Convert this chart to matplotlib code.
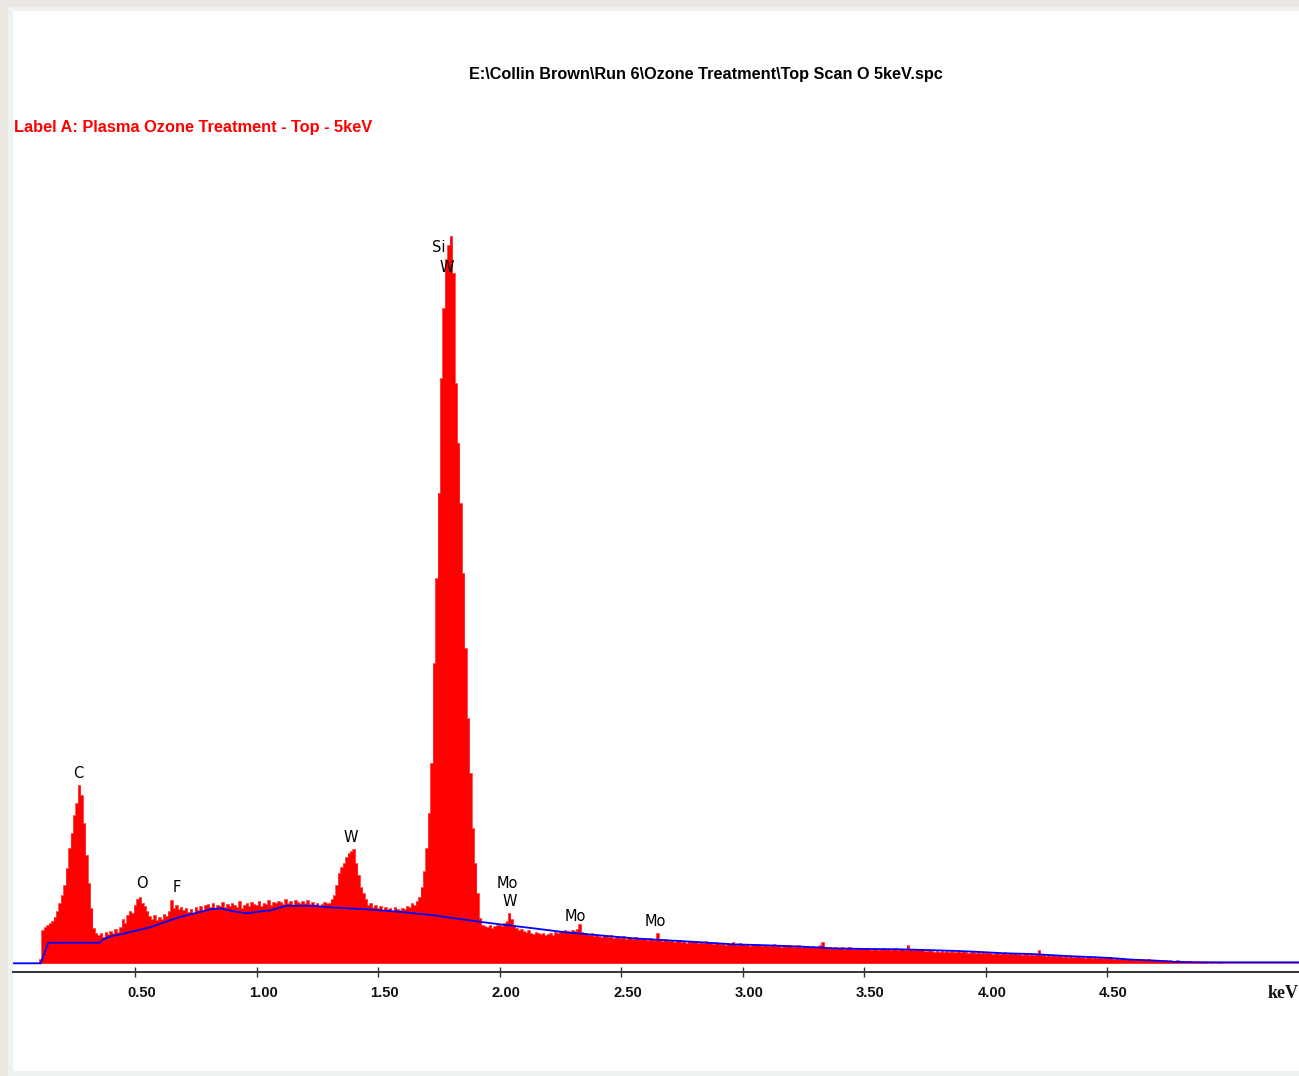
import numpy as np
import matplotlib
matplotlib.use("Agg")
import matplotlib.pyplot as plt
from matplotlib.patches import Rectangle
from matplotlib.transforms import blended_transform_factory, ScaledTranslation

# ---------------- data ----------------
channel_kev = 0.01  # channel width (keV)
# counts per channel, rows of 0.1 keV (10 channels each), starting at 0.00 keV
counts_rows = [
    [0, 0, 0, 0, 0, 0, 0, 0, 0, 0],                      # 0.0
    [0, 4, 33, 36, 38, 40, 42, 46, 52, 60],              # 0.1
    [68, 78, 95, 115, 130, 148, 160, 178, 168, 140],     # 0.2
    [108, 80, 55, 35, 30, 28, 30, 26, 31, 29],           # 0.3
    [32, 30, 34, 31, 36, 44, 40, 48, 52, 50],            # 0.4
    [58, 64, 66, 60, 57, 52, 47, 44, 48, 43],            # 0.5
    [46, 44, 49, 47, 52, 63, 55, 58, 54, 56],            # 0.6
    [53, 55, 51, 54, 50, 56, 53, 57, 52, 58],            # 0.7
    [59, 56, 60, 55, 58, 57, 61, 56, 59, 57],            # 0.8
    [60, 58, 56, 62, 55, 58, 60, 57, 61, 59],            # 0.9
    [58, 62, 57, 60, 59, 63, 58, 61, 60, 62],            # 1.0
    [61, 59, 64, 60, 62, 58, 63, 61, 60, 62],            # 1.1
    [60, 63, 59, 61, 58, 60, 57, 59, 61, 60],            # 1.2
    [60, 64, 68, 78, 90, 96, 100, 106, 110, 112],        # 1.3
    [114, 100, 88, 76, 70, 64, 58, 60, 56, 58],          # 1.4
    [55, 57, 53, 56, 54, 55, 52, 56, 54, 53],            # 1.5
    [55, 54, 57, 56, 60, 58, 62, 66, 76, 92],            # 1.6
    [115, 150, 200, 300, 385, 470, 585, 655, 704, 718],  # 1.7
    [727, 690, 580, 520, 460, 390, 315, 245, 190, 135],  # 1.8
    [100, 70, 45, 38, 37, 36, 38, 35, 37, 38],           # 1.9
    [38, 37, 40, 42, 50, 44, 38, 35, 33, 34],            # 2.0
    [32, 31, 33, 30, 29, 31, 30, 29, 30, 28],            # 2.1
    [29, 30, 28, 31, 30, 32, 31, 33, 32, 31],            # 2.2
    [33, 32, 34, 39, 31, 30, 29, 28, 30, 27],            # 2.3
    [28, 27, 26, 28, 27, 26, 28, 25, 27, 26],            # 2.4
    [25, 27, 24, 26, 25, 24, 26, 25, 24, 25],            # 2.5
    [24, 23, 25, 24, 23, 30, 23, 22, 24, 23],            # 2.6
    [22, 23, 21, 22, 23, 21, 22, 20, 22, 21],            # 2.7
    [21, 22, 20, 21, 20, 22, 21, 20, 19, 21],            # 2.8
    [20, 19, 20, 18, 20, 19, 21, 19, 18, 20],            # 2.9
    [19, 18, 19, 17, 19, 18, 19, 18, 17, 18],            # 3.0
    [18, 17, 18, 19, 17, 18, 16, 18, 17, 18],            # 3.1
    [17, 16, 17, 18, 16, 17, 16, 17, 16, 17],            # 3.2
    [16, 17, 18, 21, 16, 15, 16, 15, 16, 15],            # 3.3
    [15, 16, 14, 15, 16, 15, 14, 15, 14, 15],            # 3.4
    [14, 15, 14, 13, 15, 14, 13, 14, 15, 14],            # 3.5
    [14, 13, 14, 15, 13, 14, 14, 13, 18, 14],            # 3.6
    [13, 14, 13, 14, 13, 12, 12, 13, 12, 11],            # 3.7
    [12, 11, 12, 11, 12, 11, 12, 11, 11, 12],            # 3.8
    [11, 12, 11, 10, 11, 11, 10, 11, 10, 11],            # 3.9
    [10, 11, 10, 9, 10, 10, 9, 10, 11, 9],               # 4.0
    [10, 9, 10, 9, 9, 8, 9, 10, 8, 9],                   # 4.1
    [8, 9, 13, 8, 8, 7, 8, 7, 8, 7],                     # 4.2
    [7, 7, 6, 7, 6, 7, 6, 6, 7, 6],                      # 4.3
    [6, 5, 6, 6, 5, 6, 5, 6, 5, 5],                      # 4.4
    [5, 6, 5, 4, 5, 4, 5, 4, 4, 4],                      # 4.5
    [4, 3, 4, 3, 4, 3, 3, 4, 3, 3],                      # 4.6
    [3, 3, 2, 3, 3, 2, 3, 2, 2, 3],                      # 4.7
    [2, 2, 2, 1, 2, 1, 1, 1, 1, 1],                      # 4.8
    [1, 1, 0, 1, 0, 0, 1, 0, 0, 0],                      # 4.9
]

# background fit (blue line)
bg_kev = [0.0, 0.112, 0.143, 0.356, 0.37, 0.40, 0.46, 0.562, 0.68, 0.81, 0.85,
          0.905, 0.96, 1.02, 1.06, 1.12, 1.23, 1.30, 1.45, 1.59, 1.73, 1.80,
          1.92, 2.00, 2.14, 2.27, 2.41, 2.55, 2.69, 2.83, 2.96, 3.10, 3.24,
          3.37, 3.51, 3.65, 3.75, 3.89, 3.98, 4.08, 4.19, 4.33, 4.46, 4.53,
          4.60, 4.70, 4.79, 4.96, 5.29]
bg_counts = [0, 0, 20.6, 20.6, 24, 27, 30, 36, 46, 54, 55,
             52, 50, 52, 53, 57.5, 57.5, 56, 54, 51.5, 48, 45.5,
             41.5, 39, 35, 31, 28, 25, 23, 21, 19, 18, 16.7,
             15, 14.3, 14, 13.3, 12.3, 11.3, 10, 9.3, 7.3, 6, 5,
             3.7, 2.7, 1.3, 1, 1]

# peak identification labels
peak_names = ["C", "O", "F", "W", "Si", "W", "Mo", "W", "Mo", "Mo"]
peak_label_kev = [0.267, 0.528, 0.672, 1.389, 1.752, 1.785, 2.034, 2.043, 2.311, 2.640]
peak_label_counts = [190, 80, 75.5, 126, 715.5, 695.5, 80, 61.5, 46.5, 42.3]

tick_values = [0.5, 1.0, 1.5, 2.0, 2.5, 3.0, 3.5, 4.0, 4.5]
tick_labels = ["0.50", "1.00", "1.50", "2.00", "2.50", "3.00", "3.50", "4.00", "4.50"]

title_text = "E:\\Collin Brown\\Run 6\\Ozone Treatment\\Top Scan O 5keV.spc"
label_text = "Label A: Plasma Ozone Treatment - Top - 5keV"
x_unit = "keV"

# ---------------- figure ----------------
W, H = 1299, 1076
fig = plt.figure(figsize=(W / 100, H / 100), dpi=100)
fig.patch.set_facecolor("#ebe8e3")

def px_rect(x0, y0, x1, y1, color):
    fig.patches.append(Rectangle((x0 / W, 1 - y1 / H), (x1 - x0) / W, (y1 - y0) / H,
                                 transform=fig.transFigure, facecolor=color,
                                 edgecolor="none", zorder=-10))

px_rect(8, 7, W + 5, 1076, "#eef3f1")
px_rect(13, 11, W + 5, 1071, "#ffffff")

left_px, right_px = 13.5, 1299.0
bottom_px, top_px = 972.0, 150.0
px_per_kev = 243.0
ax = fig.add_axes([left_px / W, 1 - bottom_px / H, (right_px - left_px) / W, (bottom_px - top_px) / H])
ax.set_facecolor("none")
xmax = (right_px - left_px) / px_per_kev
base_gap = 8.7
ax.set_xlim(0, xmax)
ax.set_ylim(-base_gap, (bottom_px - top_px) - base_gap)

counts = np.array([v for row in counts_rows for v in row], dtype=float)
kev = np.arange(len(counts)) * channel_kev
kev_full = np.concatenate([kev, [kev[-1] + channel_kev, xmax]])
counts_full = np.concatenate([counts, [0, 0]])

ax.fill_between(kev_full, 0, counts_full, step="mid", color="#ff0000", lw=0, zorder=2)
ax.step(kev_full, counts_full, where="mid", color="#ff2020", lw=0.5, zorder=2)
ax.plot(bg_kev, bg_counts, color="#0000ff", lw=1.3, zorder=3, solid_joinstyle="miter")

for name, xk, yc in zip(peak_names, peak_label_kev, peak_label_counts):
    ax.text(xk, yc, name, ha="center", va="center", fontsize=10.5,
            family="DejaVu Sans", color="#000000", zorder=5)

# axes styling
for s in ["top", "right", "left"]:
    ax.spines[s].set_visible(False)
ax.spines["bottom"].set_color("#333333")
ax.spines["bottom"].set_linewidth(1.4)
ax.set_yticks([])
ax.set_xticks(tick_values)
ax.set_xticklabels([""] * len(tick_values))
ax.tick_params(axis="x", direction="inout", length=6.8, width=1.0, color="#333333")

trans = blended_transform_factory(ax.transData, ax.transAxes) + \
    ScaledTranslation(0, -21 / 100, fig.dpi_scale_trans)
for tv, tl in zip(tick_values, tick_labels):
    ax.text(tv + 6.5 / px_per_kev, 0, tl, transform=trans, ha="center", va="center",
            fontsize=10.6, fontweight="bold", family="Liberation Sans", color="#111111")

fig.text(1268 / W, 1 - 993 / H, x_unit, ha="left", va="center", fontsize=13,
         fontweight="bold", family="Liberation Serif", color="#111111")

fig.text(706 / W, 1 - 75 / H, title_text, ha="center", va="center", fontsize=11.7,
         fontweight="bold", family="Liberation Sans", color="#000000")
fig.text(14 / W, 1 - 128 / H, label_text, ha="left", va="center", fontsize=11.8,
         fontweight="bold", family="Liberation Sans", color="#ff0000")

fig.savefig("out.png", dpi=100, facecolor=fig.get_facecolor())
